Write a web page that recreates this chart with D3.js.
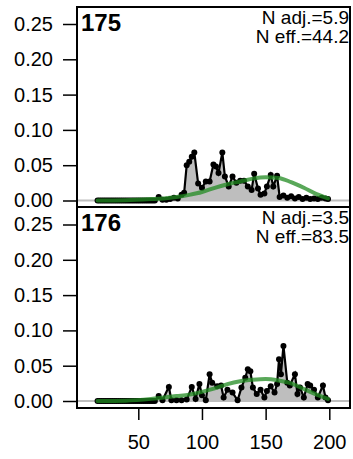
<!DOCTYPE html>
<html>
<head>
<meta charset="utf-8">
<script src="https://cdn.jsdelivr.net/npm/d3@7"></script>
<style>
  body { margin: 0; background: #fff; }
  svg { display: block; font-family: "Liberation Sans", Arial, Helvetica, sans-serif; }
</style>
</head>
<body>
<svg id="chart" width="353" height="459"></svg>
<script>
// ---------------- data ----------------
const panelIds = ["175", "176"];
const nAdj = ["5.9", "3.5"];
const nEff = ["44.2", "83.5"];

const xTicks = [50, 100, 150, 200];
const yTicks = [0.00, 0.05, 0.10, 0.15, 0.20, 0.25];

const x175 = [18,19.5,21,22.5,24,25.5,27,28.5,30,31.5,33,34.5,36,37.5,39,40.5,42,43.5,45,46.5,48,49.5,51,52.5,54,55.5,57,58.5,60,61.5,63,66,69,72,75,78,81,84,86,88,90,92,94,97,100,103,106,109,111,113,116,118,121,124,127,130,133,136,139,141,144,146,149,151,154,156,159,161,164,167,170,173,176,179,182,185,188,191,194,197,199];
const y175 = [0,0,0,0,0,0,0,0,0,0,0,0,0,0,0,0,0,0,0,0,0,0,0,0,0,0,0,0,0,0,0,0.005,0.001,0.001,0.002,0.004,0.003,0.008,0.011,0.050,0.055,0.062,0.068,0.024,0.018,0.027,0.027,0.051,0.048,0.039,0.068,0.034,0.020,0.034,0.025,0.028,0.028,0.020,0.015,0.038,0.017,0.008,0.010,0.020,0.036,0.020,0.035,0.005,0.007,0.004,0.006,0.003,0.005,0.002,0.004,0.002,0.003,0.002,0.004,0.003,0.002];

const x176 = [18,19.5,21,22.5,24,25.5,27,28.5,30,31.5,33,34.5,36,37.5,39,40.5,42,43.5,45,46.5,48,49.5,51,52.5,54,55.5,57,58.5,60,61.5,63,66,69,74,76,80,84,88,92,95,98,100,103,106,108,112,115,117,120,124,128,131,134,136,138,140,143,146,149,151,154,157,159,160.5,162,164,167,169,173,175,177,180,183,185,188,191,195,197,199];
const y176 = [0,0,0,0,0,0,0,0,0,0,0,0,0,0,0,0,0,0,0,0,0,0,0,0,0,0,0,0,0,0,0,0.007,0.001,0.020,0.001,0.001,0.001,0.002,0.020,0.003,0.024,0.008,0.001,0.038,0.026,0.021,0.022,0.005,0.016,0.012,0.001,0.019,0.033,0.045,0.042,0.019,0.010,0.016,0.005,0.014,0.021,0.012,0.024,0.059,0.038,0.078,0.026,0.022,0.038,0.010,0.019,0.005,0.024,0.022,0.016,0.005,0.022,0.005,0.001];

const xFit = [18,40,60,70,80,90,100,110,120,130,140,150,160,170,180,190,199];
const fit175 = [0,0.0005,0.002,0.003,0.005,0.008,0.012,0.018,0.023,0.027,0.031,0.033,0.032,0.026,0.018,0.009,0.003];
const fit176 = [0,0.0005,0.003,0.005,0.007,0.009,0.013,0.018,0.024,0.028,0.030,0.031,0.029,0.025,0.017,0.009,0.003];

const panelX = [x175, x176];
const panelY = [y175, y176];
const panelFit = [fit175, fit176];

// ---------------- layout ----------------
const svg = d3.select("#chart");
const boxLeft = 77, boxRight = 350;
const panels = [
  { top: 7, bottom: 207, y0: 200.5, y25: 24 },
  { top: 207, bottom: 408, y0: 401, y25: 224.5 }
];

const x = d3.scaleLinear().domain([50, 200]).range([138.3, 329.3]);

panels.forEach((p, i) => {
  const y = d3.scaleLinear().domain([0, 0.25]).range([p.y0, p.y25]);
  const g = svg.append("g");
  const clipId = "clip" + i;
  svg.append("clipPath").attr("id", clipId)
    .append("rect").attr("x", boxLeft).attr("y", p.top)
    .attr("width", boxRight - boxLeft).attr("height", p.bottom - p.top);

  const plot = g.append("g").attr("clip-path", `url(#${clipId})`);
  const pts = panelX[i].map((v, k) => [v, panelY[i][k]]);

  // grey area
  plot.append("path").datum(pts)
    .attr("d", d3.area().x(d => x(d[0])).y0(y(0)).y1(d => y(d[1])))
    .attr("fill", "#bebebe");
  // zero line
  plot.append("line")
    .attr("x1", boxLeft).attr("x2", boxRight)
    .attr("y1", y(0)).attr("y2", y(0))
    .attr("stroke", "#bebebe").attr("stroke-width", 2);
  // black line + points
  plot.append("path").datum(pts)
    .attr("d", d3.line().x(d => x(d[0])).y(d => y(d[1])))
    .attr("fill", "none").attr("stroke", "#000").attr("stroke-width", 2.2);
  plot.selectAll("circle").data(pts).join("circle")
    .attr("cx", d => x(d[0])).attr("cy", d => y(d[1])).attr("r", 3)
    .attr("fill", "#000");
  // green fit
  const fit = xFit.map((v, k) => [v, panelFit[i][k]]);
  plot.append("path").datum(fit)
    .attr("d", d3.line().curve(d3.curveMonotoneX).x(d => x(d[0])).y(d => y(d[1])))
    .attr("fill", "none").attr("stroke", "rgb(34,139,34)").attr("stroke-opacity", 0.75)
    .attr("stroke-width", 4).attr("stroke-linecap", "round");

  // y axis
  const ax = g.append("g").attr("transform", `translate(${boxLeft},0)`)
    .call(d3.axisLeft(y).tickValues(yTicks).tickFormat(d3.format(".2f")).tickSize(14).tickPadding(10));
  ax.select(".domain").remove();
  ax.selectAll(".tick line").attr("stroke", "#000").attr("stroke-width", 1.5);
  ax.selectAll(".tick text").attr("font-size", 20).attr("fill", "#000")
    .attr("font-family", "Liberation Sans, Arial, sans-serif");

  // box
  g.append("rect").attr("x", boxLeft).attr("y", p.top)
    .attr("width", boxRight - boxLeft).attr("height", p.bottom - p.top)
    .attr("fill", "none").attr("stroke", "#000").attr("stroke-width", 2);

  // labels
  g.append("text").attr("x", 81).attr("y", p.top + 24)
    .attr("font-size", 24).attr("font-weight", "bold").text(panelIds[i]);
  g.append("text").attr("x", 349).attr("y", p.top + 17).attr("text-anchor", "end")
    .attr("font-size", 19).text("N adj.=" + nAdj[i]);
  g.append("text").attr("x", 349).attr("y", p.top + 36).attr("text-anchor", "end")
    .attr("font-size", 19).text("N eff.=" + nEff[i]);
});

// x axis (bottom)
const xa = svg.append("g").attr("transform", "translate(0,408)")
  .call(d3.axisBottom(x).tickValues(xTicks).tickSize(12).tickPadding(15));
xa.select(".domain").remove();
xa.selectAll(".tick line").attr("stroke", "#000").attr("stroke-width", 1.5);
xa.selectAll(".tick text").attr("font-size", 20).attr("fill", "#000")
  .attr("font-family", "Liberation Sans, Arial, sans-serif");
</script>
</body>
</html>
